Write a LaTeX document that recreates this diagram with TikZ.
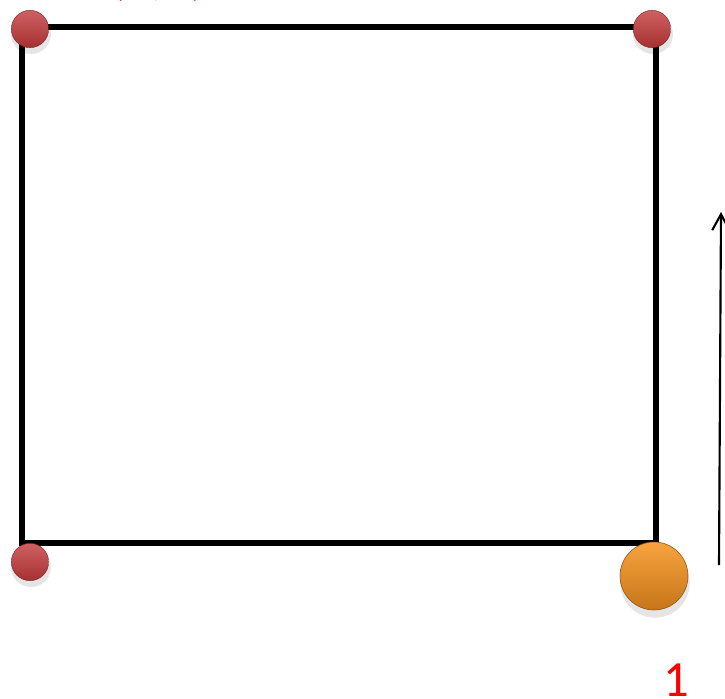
\documentclass[tikz,border=0pt]{standalone}
\usepackage{fontspec}
\setmainfont{Carlito}
\usetikzlibrary{arrows.meta}
\definecolor{ballred}{HTML}{C3393B}
\definecolor{ballorange}{HTML}{F7931E}
\definecolor{labelred}{HTML}{FF0000}
\tikzset{
  corner/.style={circle,inner sep=0pt,minimum size=28pt,top color=ballred!80!white,bottom color=ballred!85!black,draw=ballred!60!black,line width=0.3pt},
  mover/.style={circle,inner sep=0pt,minimum size=51pt,top color=ballorange!85!white,bottom color=ballorange!80!black,draw=ballorange!55!black,line width=0.4pt},
  tag/.style={text=labelred,font=\fontsize{38}{40}\selectfont,inner sep=0pt,anchor=base}
}
\begin{document}
\begin{tikzpicture}[x=0.75pt,y=-0.75pt]
  \useasboundingbox (0,0) rectangle (725,699);
  \clip (0,0) rectangle (725,699);
  \coordinate (tl) at (22,27);
  \coordinate (tr) at (656,27);
  \coordinate (br) at (656,543);
  \coordinate (bl) at (22,543);
  \draw[line width=3.8pt,line join=miter] (tl) -- (tr) -- (br) -- (bl) -- cycle;
  \foreach \c/\x/\y in {a/30/29,b/652/29,c/30/562}{
    \fill[black,opacity=0.1] (\x+1,\y+5) circle (15pt);
    \node[corner] (ball\c) at (\x,\y) {};
  }
  \fill[black,opacity=0.1] (655,583) circle (26pt);
  \node[mover] (ballmove) at (654,576) {};
  \coordinate (arrowfoot) at (719,565);
  \coordinate (arrowhead) at (721,212);
  \draw[line width=1.6pt,-{Straight Barb[length=12pt,width=13pt]}] (arrowfoot) -- (arrowhead);
  \node[tag] (topcoord) at (158,-5) {(0,0)};
  \node[tag] (count) at (676,696) {1};
\end{tikzpicture}
\end{document}
